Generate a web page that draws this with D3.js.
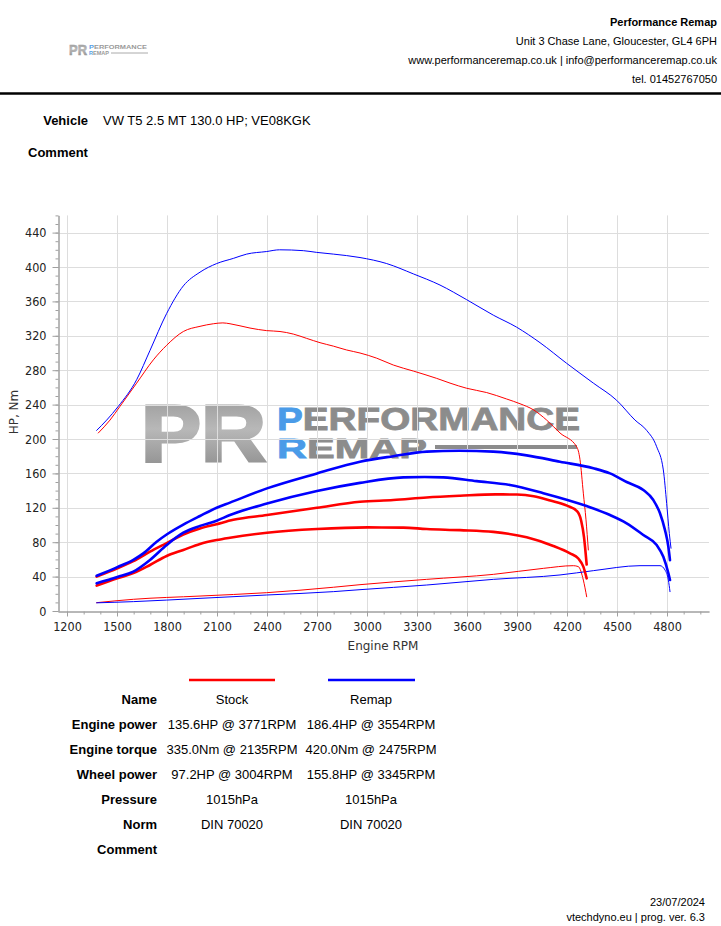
<!DOCTYPE html>
<html>
<head>
<meta charset="utf-8">
<script src="https://cdn.jsdelivr.net/npm/d3@7"></script>
<style>
  html, body { margin: 0; padding: 0; background: #fff; }
  svg { display: block; }
</style>
</head>
<body>
<svg id="chart" width="721" height="926"></svg>
<script>
// ---------------- DATA ----------------
const headerLines = ["Unit 3 Chase Lane, Gloucester, GL4 6PH",
  "www.performanceremap.co.uk | info@performanceremap.co.uk",
  "tel. 01452767050"];
const companyName = "Performance Remap";
const vehicleText = "VW T5 2.5 MT 130.0 HP; VE08KGK";

const xTicks = [1200,1500,1800,2100,2400,2700,3000,3300,3600,3900,4200,4500,4800];
const yTicks = [0,40,80,120,160,200,240,280,320,360,400,440];

// [rpm, value]
const stockTorque = [[1388,207],[1458,222],[1518,238],[1618,265],[1718,292],[1798,309],[1898,325],[1998,331],[2078,334],[2135,335],[2178,334],[2298,329],[2398,326],[2478,325],[2558,322],[2638,317],[2718,312],[2798,308],[2878,303.5],[2958,300],[3058,294],[3158,286],[3278,279],[3418,270.5],[3498,265],[3598,259],[3718,254],[3838,246.5],[3918,241],[3998,234],[4078,222],[4158,207],[4258,191],[4278,176],[4298,137],[4314,106],[4328,71]];
const remapTorque = [[1378,210],[1438,222],[1508,238],[1618,269],[1698,303],[1798,346],[1898,378],[1998,394],[2098,404],[2198,410],[2278,415],[2398,418],[2475,420],[2618,419],[2698,417],[2798,415],[2958,411],[3118,404],[3278,392],[3438,379],[3598,362],[3758,344],[3898,330],[4038,312],[4198,288],[4358,265],[4498,245],[4608,222],[4678,210],[4738,191],[4778,164],[4798,125],[4814,90],[4824,73]];
const stockPower = [[1378,40],[1502,49.6],[1598,58],[1698,69],[1798,79],[1898,89],[1998,96],[2098,101],[2198,106],[2400,111.6],[2700,120],[2958,127],[3158,129],[3358,132],[3558,134],[3771,135.6],[3900,135.4],[4000,133.5],[4100,128.5],[4200,122.5],[4260,116],[4285,105],[4302,86],[4318,54]];
const stockWheel = [[1378,29.5],[1502,38],[1598,44],[1698,53.5],[1798,64],[1898,71],[1998,78],[2098,82.5],[2178,85.2],[2400,91],[2700,95.3],[3004,97.2],[3218,97],[3358,95.3],[3558,94],[3758,92],[3958,85.7],[4118,75.6],[4218,67],[4268,61],[4298,51.6],[4318,38]];
const remapPower = [[1378,41],[1502,51],[1598,59.5],[1658,67],[1738,80.6],[1798,89],[1898,100.5],[1998,110.5],[2098,120],[2178,126],[2400,142.6],[2700,160],[2958,173.6],[3158,180],[3358,185.3],[3554,186.4],[3758,185.3],[3958,181],[4158,173.6],[4358,166],[4458,160],[4558,150],[4658,140.7],[4718,129],[4758,113.6],[4788,94],[4808,75],[4818,59]];
const remapWheel = [[1378,32.2],[1502,39.5],[1598,45.7],[1698,59.3],[1798,76.7],[1898,91],[1998,99],[2098,105],[2178,111.6],[2400,125],[2700,139.5],[2958,149],[3218,155.4],[3345,155.8],[3458,155.4],[3658,151],[3858,146.5],[4058,137],[4318,122],[4458,111.6],[4558,102],[4658,88.4],[4738,76.7],[4778,63],[4808,44],[4818,36]];
const stockLoss = [[1378,9.7],[1598,13.6],[1998,17.4],[2398,21.3],[2798,27.6],[2958,30.6],[3358,36.8],[3758,42.6],[4058,49.6],[4238,52.7],[4268,51.6],[4298,36],[4318,16.6]];
const remapLoss = [[1378,9.5],[1598,10.9],[1998,14.7],[2398,18.6],[2798,22.5],[2958,24.8],[3358,30.2],[3758,36.8],[4158,41.9],[4358,46.9],[4638,52.7],[4758,52.7],[4788,47.7],[4808,36],[4818,22.5]];

const rowLabels = ["Name","Engine power","Engine torque","Wheel power","Pressure","Norm","Comment"];
const stockValues = ["Stock","135.6HP @ 3771RPM","335.0Nm @ 2135RPM","97.2HP @ 3004RPM","1015hPa","DIN 70020",""];
const remapValues = ["Remap","186.4HP @ 3554RPM","420.0Nm @ 2475RPM","155.8HP @ 3345RPM","1015hPa","DIN 70020",""];
const footerDate = "23/07/2024";
const footerProg = "vtechdyno.eu | prog. ver. 6.3";

// ---------------- DRAW ----------------
const svg = d3.select("#chart");
const SANS = "'Liberation Sans', Arial, sans-serif";
const RED = "#ff0000", BLUE = "#0000ff";

// header
const hdr = svg.append("g").attr("font-family", SANS).attr("font-size", 11).attr("fill", "#000").attr("text-anchor", "end");
hdr.append("text").attr("x", 717).attr("y", 26).attr("font-weight", "bold").text(companyName);
headerLines.forEach((t, i) => hdr.append("text").attr("x", 717).attr("y", 45 + i * 19).text(t));
svg.append("line").attr("x1", 0).attr("x2", 721).attr("y1", 93.5).attr("y2", 93.5).attr("stroke", "#000").attr("stroke-width", 2.5);

// gradient for logos
const defs = svg.append("defs");
const grad = defs.append("linearGradient").attr("id", "prgrad").attr("x1", 0).attr("y1", 0).attr("x2", 0).attr("y2", 1);
grad.append("stop").attr("offset", "0%").attr("stop-color", "#959595");
grad.append("stop").attr("offset", "45%").attr("stop-color", "#b8b8b8");
grad.append("stop").attr("offset", "100%").attr("stop-color", "#878787");

// small header logo
const sl = svg.append("g").attr("font-family", SANS).attr("font-weight", "bold");
sl.append("text").attr("x", 69).attr("y", 55).attr("font-size", 14).attr("fill", "url(#prgrad)")
  .attr("stroke", "url(#prgrad)").attr("stroke-width", 0.6)
  .attr("textLength", 18).attr("lengthAdjust", "spacingAndGlyphs").text("PR");
sl.append("text").attr("x", 89).attr("y", 49).attr("font-size", 6).attr("fill", "#9a9a9a")
  .attr("textLength", 58).attr("lengthAdjust", "spacingAndGlyphs")
  .html('<tspan fill="#5aa0e6">P</tspan>ERFORMANCE');
sl.append("text").attr("x", 89).attr("y", 55).attr("font-size", 5).attr("fill", "#9a9a9a")
  .attr("textLength", 20).attr("lengthAdjust", "spacingAndGlyphs")
  .html('<tspan fill="#5aa0e6">R</tspan>EMAP');
sl.append("line").attr("x1", 111).attr("x2", 148).attr("y1", 53).attr("y2", 53).attr("stroke", "#aaa").attr("stroke-width", 1);

// vehicle / comment
const vg = svg.append("g").attr("font-family", SANS).attr("font-size", 13);
vg.append("text").attr("x", 88).attr("y", 125).attr("text-anchor", "end").attr("font-weight", "bold").text("Vehicle");
vg.append("text").attr("x", 103).attr("y", 125).text(vehicleText);
vg.append("text").attr("x", 28).attr("y", 157).attr("font-weight", "bold").text("Comment");

// scales
const x = d3.scaleLinear().domain([1146, 5052]).range([58, 709]);
const y = d3.scaleLinear().domain([0, 460]).range([611, 215.4]);

// watermark logo (under grid)
const wm = svg.append("g").attr("font-family", SANS).attr("font-weight", "bold");
wm.append("text").attr("x", 141).attr("y", 461).attr("font-size", 80).attr("fill", "url(#prgrad)")
  .attr("stroke", "url(#prgrad)").attr("stroke-width", 3).attr("stroke-linejoin", "miter")
  .attr("textLength", 125).attr("lengthAdjust", "spacingAndGlyphs").text("PR");
wm.append("text").attr("x", 277).attr("y", 430).attr("font-size", 30.5).attr("fill", "#8c8c8c")
  .attr("stroke", "#8c8c8c").attr("stroke-width", 0.8)
  .attr("textLength", 303).attr("lengthAdjust", "spacingAndGlyphs")
  .html('<tspan fill="#4a9be8" stroke="#4a9be8">P</tspan>ERFORMANCE');
wm.append("text").attr("x", 277).attr("y", 458).attr("font-size", 28).attr("fill", "#8c8c8c")
  .attr("stroke", "#8c8c8c").attr("stroke-width", 0.8)
  .attr("textLength", 150).attr("lengthAdjust", "spacingAndGlyphs")
  .html('<tspan fill="#4a9be8" stroke="#4a9be8">R</tspan>EMAP');
wm.append("line").attr("x1", 435).attr("x2", 577).attr("y1", 447).attr("y2", 447).attr("stroke", "#8c8c8c").attr("stroke-width", 4);

// grid
const grid = svg.append("g").attr("stroke", "#dddddd").attr("stroke-width", 1);
grid.selectAll(".vg").data(xTicks).join("line")
  .attr("x1", d => Math.round(x(d)) + 0.5).attr("x2", d => Math.round(x(d)) + 0.5)
  .attr("y1", y(460)).attr("y2", y(0));
grid.selectAll(".hg").data(yTicks.filter(d => d > 0)).join("line")
  .attr("y1", d => Math.round(y(d)) + 0.5).attr("y2", d => Math.round(y(d)) + 0.5)
  .attr("x1", x(1146)).attr("x2", x(5052));

// axes
const AX = "'Liberation Sans Narrow', 'DejaVu Sans Condensed', 'Liberation Sans', sans-serif";
function styleAxis(g) {
  g.select(".domain").attr("stroke", "#a0a0a0");
  g.selectAll(".tick line").attr("stroke", "#a0a0a0");
  g.selectAll(".tick text").attr("fill", "#222").attr("font-family", AX).attr("font-size", 12.5);
}
const yMinor = svg.append("g").attr("transform", "translate(58.5,0)")
  .call(d3.axisLeft(y).tickValues(d3.range(0, 461, 10)).tickSize(3).tickSizeOuter(0).tickFormat(""));
styleAxis(yMinor);
const yAxis = svg.append("g").attr("transform", "translate(58.5,0)")
  .call(d3.axisLeft(y).tickValues(yTicks).tickSize(6).tickSizeOuter(0).tickPadding(6));
styleAxis(yAxis);
const xMinor = svg.append("g").attr("transform", "translate(0,611.5)")
  .call(d3.axisBottom(x).tickValues(d3.range(1200, 5001, 100)).tickSize(3).tickSizeOuter(0).tickFormat(""));
styleAxis(xMinor);
const xAxis = svg.append("g").attr("transform", "translate(0,611.5)")
  .call(d3.axisBottom(x).tickValues(xTicks).tickSize(5).tickSizeOuter(0).tickPadding(6).tickFormat(d3.format("d")));
styleAxis(xAxis);

svg.append("text").attr("x", 383).attr("y", 650).attr("text-anchor", "middle")
  .attr("font-family", "'DejaVu Sans', sans-serif").attr("font-size", 12).attr("fill", "#333").text("Engine RPM");
svg.append("text").attr("transform", "translate(18,412) rotate(-90)").attr("text-anchor", "middle")
  .attr("font-family", "'DejaVu Sans', sans-serif").attr("font-size", 12).attr("fill", "#333").text("HP, Nm");

// curves
const line = d3.line().x(d => x(d[0])).y(d => y(d[1])).curve(d3.curveMonotoneX);
const curves = [
  [stockLoss, RED, 1], [remapLoss, BLUE, 1],
  [stockTorque, RED, 1], [remapTorque, BLUE, 1],
  [stockWheel, RED, 2.6], [stockPower, RED, 2.6],
  [remapWheel, BLUE, 2.6], [remapPower, BLUE, 2.6]
];
svg.append("g").selectAll("path").data(curves).join("path")
  .attr("d", d => line(d[0])).attr("fill", "none")
  .attr("stroke", d => d[1]).attr("stroke-width", d => d[2])
  .attr("stroke-linejoin", "round").attr("stroke-linecap", "round");

// table
const tb = svg.append("g").attr("font-family", SANS).attr("font-size", 13).attr("fill", "#000");
tb.append("line").attr("x1", 189).attr("x2", 275).attr("y1", 680).attr("y2", 680).attr("stroke", RED).attr("stroke-width", 2.5);
tb.append("line").attr("x1", 328).attr("x2", 415).attr("y1", 680).attr("y2", 680).attr("stroke", BLUE).attr("stroke-width", 2.5);
rowLabels.forEach((lab, i) => {
  const yy = 704 + i * 25;
  tb.append("text").attr("x", 157).attr("y", yy).attr("text-anchor", "end").attr("font-weight", "bold").text(lab);
  tb.append("text").attr("x", 232).attr("y", yy).attr("text-anchor", "middle").text(stockValues[i]);
  tb.append("text").attr("x", 371).attr("y", yy).attr("text-anchor", "middle").text(remapValues[i]);
});

// footer
const ft = svg.append("g").attr("font-family", SANS).attr("font-size", 11).attr("fill", "#000").attr("text-anchor", "end");
ft.append("text").attr("x", 705).attr("y", 906).text(footerDate);
ft.append("text").attr("x", 705).attr("y", 921).text(footerProg);
</script>
</body>
</html>
